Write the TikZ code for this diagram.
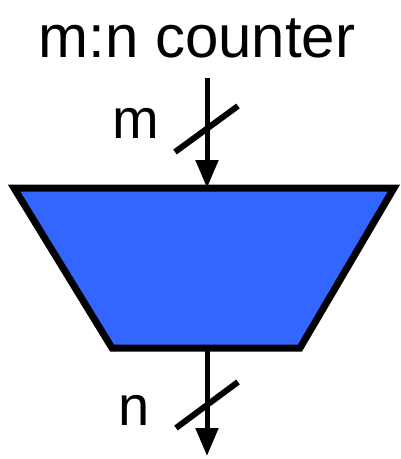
\documentclass[tikz,border=0pt]{standalone}
\usepackage{fontspec}
\setmainfont{Liberation Sans}
\usetikzlibrary{arrows.meta}
\definecolor{muxblue}{HTML}{3366FF}
\tikzset{
  bus/.style={line width=5pt,-{Triangle[length=28pt,width=22pt]}},
  buswidth/.style={line width=6pt},
  lbl/.style={font=\fontsize{56}{56}\selectfont,inner sep=0pt}
}
\begin{document}
\begin{tikzpicture}[x=1pt,y=-1pt]
\useasboundingbox (0,0) rectangle (400,459);
\node[font=\fontsize{60}{60}\selectfont,inner sep=0pt] (title) at (197,38) {m:n counter};
\draw[line width=7pt,fill=muxblue,line join=miter] (14,188) -- (394,188) -- (300,348) -- (112,348) -- cycle;
\coordinate (top) at (207,188);
\coordinate (bot) at (207,351);
\coordinate (inm) at (207,78);
\coordinate (outn) at (207,456);
\draw[bus] (inm) -- (top);
\draw[bus] (bot) -- (outn);
\draw[buswidth] (175,152) -- (238,106);
\draw[buswidth] (176,428) -- (238,382);
\node[lbl] (m) at (136,123) {m};
\node[lbl] (n) at (134,410) {n};
\end{tikzpicture}
\end{document}
